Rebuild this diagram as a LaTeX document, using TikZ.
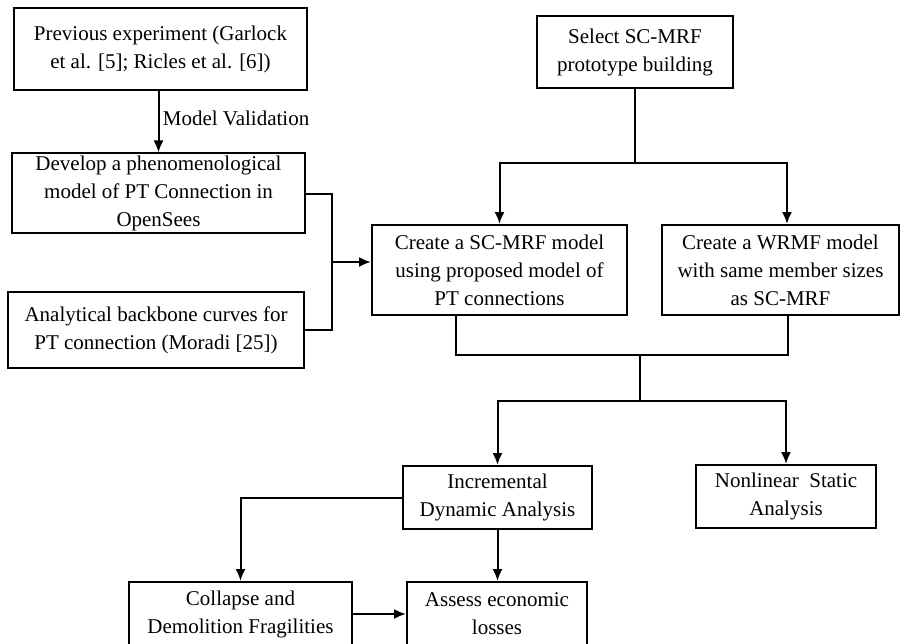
\documentclass[tikz,border=0pt]{standalone}
\usepackage{fontspec}
\setmainfont{Liberation Serif}
\usetikzlibrary{arrows.meta,positioning}
\tikzstyle{block} = [
	draw,
	line width=2pt,
	align=center,
	inner sep=2pt,
	font=\fontsize{21}{28}\selectfont
]
\tikzstyle{line} = [draw, line width=2pt]
\tikzstyle{joint} = [coordinate]

\begin{document}
\begin{tikzpicture}[x=1pt, y=-1pt, >={Latex[length=12pt,width=10pt]}]
	\useasboundingbox (0,0) rectangle (902,643);
	% left column
	\node[block, minimum width=293pt, minimum height=82pt] (prev) at (160.5,49) {Previous experiment (Garlock\\et al. [5]; Ricles et al. [6])};
	\node[block, minimum width=293pt, minimum height=78pt] (dev) at (158.5,193) {Develop a phenomenological\\model of PT Connection in\\OpenSees};
	\node[block, minimum width=296pt, minimum height=76pt] (ana) at (156,330) {Analytical backbone curves for\\PT connection (Moradi [25])};
	% right column
	\node[block, minimum width=196pt, minimum height=72pt] (sel) at (635,52) {Select SC-MRF\\prototype building};
	\node[block, minimum width=255pt, minimum height=90pt] (scm) at (499.5,270) {Create a SC-MRF model\\using proposed model of\\PT connections};
	\node[block, minimum width=237pt, minimum height=90pt] (wrm) at (780.5,270) {Create a WRMF model\\with same member sizes\\as SC-MRF};
	% analyses
	\node[block, minimum width=189pt, minimum height=63pt] (ida) at (497.5,497.5) {Incremental\\Dynamic Analysis};
	\node[block, minimum width=180pt, minimum height=63pt] (nsa) at (786,496.5) {Nonlinear\ \ Static\\Analysis};
	\node[block, minimum width=223pt, minimum height=64pt] (col) at (240.5,614) {Collapse and\\Demolition Fragilities};
	\node[block, minimum width=180pt, minimum height=64pt] (loss) at (497,614) {Assess economic\\losses};

	\node[joint] (lj) at (332,262) {};
	\node[joint] (sj) at (635,163) {};
	\node[joint] (mj) at (640,355) {};
	\node[joint] (aj) at (640,401) {};

	\draw[line, ->] (prev.south -| dev.north) -- (dev.north) node[pos=0.44, right, font=\fontsize{21}{28}\selectfont]{Model Validation};
	\draw[line] (dev.east |- 0,194) -| (lj) |- (ana.east);
	\draw[line, ->] (lj) -- (lj -| scm.west);
	\draw[line] (sel.south) -- (sj);
	\draw[line, ->] (sj) -| (scm.north);
	\draw[line, ->] (sj) -| ([xshift=6.5pt]wrm.north);
	\draw[line] ([xshift=-44pt]scm.south) |- (mj) -| ([xshift=7.5pt]wrm.south);
	\draw[line] (mj) -- (aj);
	\draw[line, ->] (aj) -| (ida.north);
	\draw[line, ->] (aj) -| (nsa.north);
	\draw[line, ->] (ida.west |- 0,498) -| (col.north);
	\draw[line, ->] (ida.south) -- (ida.south |- loss.north);
	\draw[line, ->] (col.east) -- (loss.west);
\end{tikzpicture}
\end{document}
